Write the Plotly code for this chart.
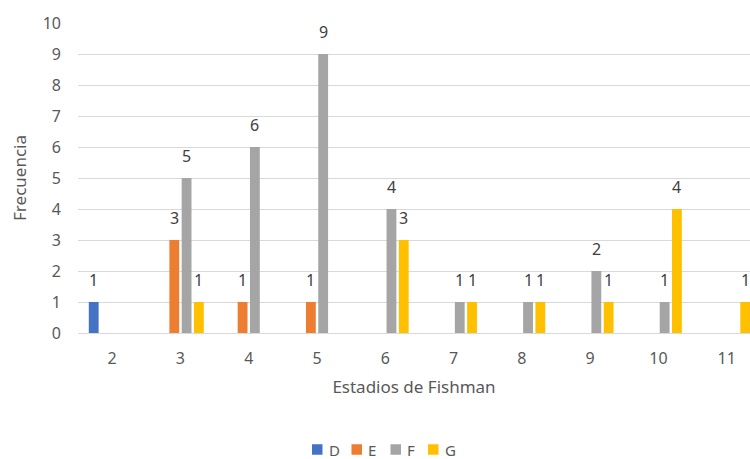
import plotly.graph_objects as go

estadios = [2, 3, 4, 5, 6, 7, 8, 9, 10, 11]
serie_d = [1, None, None, None, None, None, None, None, None, None]
serie_e = [None, 3, 1, 1, None, None, None, None, None, None]
serie_f = [None, 5, 6, 9, 4, 1, 1, 2, 1, None]
serie_g = [None, 1, None, None, 3, 1, 1, 1, 4, 1]

series = [
    ("D", serie_d, "#4472C4"),
    ("E", serie_e, "#ED7D31"),
    ("F", serie_f, "#A5A5A5"),
    ("G", serie_g, "#FFC000"),
]

font_family = "Noto Sans, Open Sans, Liberation Sans, sans-serif"
BARGAP = 0.28
BARGROUPGAP = 0.2

# plot area geometry (pixels)
W, H = 750, 459
M_L, M_R, M_T, M_B = 78, 0, 23, 126
PW, PH = W - M_L - M_R, H - M_T - M_B

fig = go.Figure()
annotations = []
shapes = []
n = len(series)
slot = (1 - BARGAP) / n
for i, (name, vals, color) in enumerate(series):
    fig.add_trace(go.Bar(
        name=name,
        x=estadios,
        y=vals,
        marker=dict(color=color, line=dict(width=0)),
        showlegend=False,
    ))
    # value labels, placed above each bar of this series
    for cat, v in zip(estadios, vals):
        if v is None:
            continue
        annotations.append(dict(
            x=cat + (i - (n - 1) / 2) * slot, y=v, xref="x", yref="y",
            text=str(v), showarrow=False, yanchor="bottom", yshift=9,
            font=dict(size=16, color="#404040", family=font_family),
        ))

# legend row below the axis title
legend_left = [312, 351.5, 390.5, 428]
sq = 10.5
leg_y = 449.5
for (name, vals, color), lx in zip(series, legend_left):
    shapes.append(dict(
        type="rect", xref="paper", yref="paper",
        x0=(lx - M_L) / PW, x1=(lx + sq - M_L) / PW,
        y0=(H - M_B - (leg_y + sq / 2)) / PH, y1=(H - M_B - (leg_y - sq / 2)) / PH,
        fillcolor=color, line=dict(width=0),
    ))
    annotations.append(dict(
        x=(lx + sq + 5 - M_L) / PW, y=(H - M_B - leg_y) / PH,
        xref="paper", yref="paper", xanchor="left", yanchor="middle",
        text=name, showarrow=False, borderpad=0,
        font=dict(size=15, color="#595959", family=font_family),
    ))

fig.update_layout(
    width=W,
    height=H,
    barmode="group",
    bargap=BARGAP,
    bargroupgap=BARGROUPGAP,
    paper_bgcolor="white",
    plot_bgcolor="white",
    margin=dict(l=M_L, r=M_R, t=M_T, b=M_B, autoexpand=False),
    font=dict(family=font_family, color="#595959", size=16),
    showlegend=False,
    annotations=annotations,
    shapes=shapes,
    xaxis=dict(
        range=[1.5, 11.34],
        tickvals=estadios,
        ticktext=[str(v) for v in estadios],
        showgrid=False,
        zeroline=False,
        showline=False,
        ticks="",
        ticklabelstandoff=14,
        tickfont=dict(size=16, color="#595959"),
        title=dict(text="Estadios de Fishman", font=dict(size=17, color="#595959"), standoff=13),
    ),
    yaxis=dict(
        range=[0, 10],
        dtick=1,
        showgrid=True,
        gridcolor="#D9D9D9",
        gridwidth=1,
        zeroline=True,
        zerolinecolor="#D9D9D9",
        zerolinewidth=1,
        showline=False,
        ticks="",
        ticklabelstandoff=16,
        tickfont=dict(size=16, color="#595959"),
        title=dict(text="Frecuencia", font=dict(size=17, color="#595959"), standoff=11),
    ),
)

fig.write_html("out.html")
